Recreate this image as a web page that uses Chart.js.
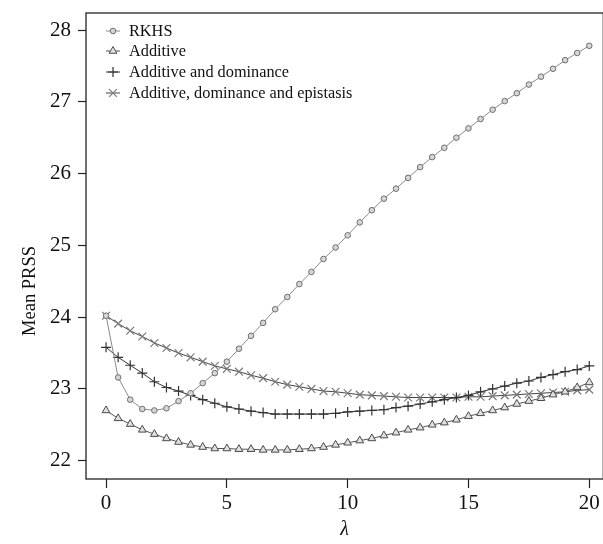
<!DOCTYPE html>
<html>
<head>
<meta charset="utf-8">
<script src="https://cdn.jsdelivr.net/npm/chart.js@4.4.1/dist/chart.umd.min.js"></script>
<style>
  html, body { margin: 0; padding: 0; background: #fff; overflow: hidden; }
  #wrap { width: 603px; height: 544px; overflow: hidden; }
</style>
</head>
<body>
<!-- canvas is a little wider than the page so the open right side of the box runs off the edge -->
<div id="wrap"><canvas id="prssChart" width="610" height="544"></canvas></div>
<script>
// penalty values (lambda)
const lambdas = [0, 0.5, 1, 1.5, 2, 2.5, 3, 3.5, 4, 4.5, 5, 5.5, 6, 6.5, 7, 7.5, 8, 8.5, 9, 9.5,
                 10, 10.5, 11, 11.5, 12, 12.5, 13, 13.5, 14, 14.5, 15, 15.5, 16, 16.5, 17, 17.5,
                 18, 18.5, 19, 19.5, 20];

// mean PRSS for each model
const rkhs = [24.02, 23.16, 22.85, 22.72, 22.70, 22.73, 22.83, 22.94, 23.08, 23.22, 23.38,
              23.56, 23.74, 23.92, 24.11, 24.28, 24.46, 24.63, 24.81, 24.97, 25.14, 25.32,
              25.49, 25.65, 25.79, 25.94, 26.09, 26.23, 26.36, 26.50, 26.63, 26.76, 26.89,
              27.01, 27.12, 27.24, 27.35, 27.46, 27.58, 27.68, 27.78];
const additive = [22.70, 22.59, 22.51, 22.43, 22.37, 22.31, 22.26, 22.22, 22.19, 22.17, 22.17,
                  22.16, 22.16, 22.15, 22.15, 22.15, 22.16, 22.17, 22.19, 22.22, 22.25, 22.28,
                  22.31, 22.35, 22.39, 22.43, 22.46, 22.50, 22.53, 22.57, 22.62, 22.66, 22.70,
                  22.74, 22.79, 22.83, 22.87, 22.92, 22.96, 23.02, 23.09];
const addDom = [23.58, 23.44, 23.33, 23.22, 23.10, 23.02, 22.97, 22.91, 22.85, 22.80, 22.75,
                22.72, 22.69, 22.67, 22.65, 22.65, 22.65, 22.65, 22.65, 22.66, 22.68, 22.69,
                22.70, 22.71, 22.74, 22.76, 22.79, 22.82, 22.85, 22.88, 22.91, 22.96, 23.00,
                23.04, 23.08, 23.11, 23.16, 23.20, 23.24, 23.27, 23.32];
const addDomEpi = [24.02, 23.91, 23.81, 23.73, 23.64, 23.57, 23.50, 23.44, 23.38, 23.32, 23.28,
                   23.24, 23.19, 23.15, 23.10, 23.06, 23.03, 23.00, 22.97, 22.96, 22.94, 22.92,
                   22.91, 22.90, 22.89, 22.88, 22.88, 22.88, 22.88, 22.88, 22.89, 22.89, 22.90,
                   22.91, 22.92, 22.93, 22.94, 22.95, 22.96, 22.98, 22.99];

const xTicks = [0, 5, 10, 15, 20];
const yTicks = [22, 23, 24, 25, 26, 27, 28];
const seriesNames = ['RKHS', 'Additive', 'Additive and dominance', 'Additive, dominance and epistasis'];

const serif = "'Liberation Serif', 'DejaVu Serif', serif";

function pairs(ys) {
    return lambdas.map((x, i) => ({x: x, y: ys[i]}));
}

// R-style box around the plotting region, plus the y axis label
const frame = {
    id: 'frame',
    afterDraw(chart) {
        const {ctx, chartArea: a} = chart;
        ctx.save();
        ctx.strokeStyle = '#222';
        ctx.lineWidth = 1.3;
        ctx.strokeRect(a.left, a.top, a.right - a.left, a.bottom - a.top);

        ctx.translate(30, 291);
        ctx.rotate(-Math.PI / 2);
        ctx.fillStyle = '#111';
        ctx.font = '18.5px ' + serif;
        ctx.textAlign = 'center';
        ctx.textBaseline = 'middle';
        ctx.fillText('Mean PRSS', 0, 0);
        ctx.restore();
    }
};

// legend in the top-left corner: short line + marker, then the name
const boxLegend = {
    id: 'boxLegend',
    afterDraw(chart) {
        const ctx = chart.ctx;
        const x0 = 106, x1 = 120, tx = 129;
        const rows = [31, 51, 72, 93];
        ctx.save();
        chart.data.datasets.forEach((ds, i) => {
            const y = rows[i];
            ctx.strokeStyle = ds.borderColor;
            ctx.lineWidth = 1;
            ctx.beginPath();
            ctx.moveTo(x0, y);
            ctx.lineTo(x1, y);
            ctx.stroke();
            ctx.strokeStyle = ds.pointBorderColor;
            ctx.fillStyle = ds.pointBackgroundColor;
            ctx.lineWidth = ds.pointBorderWidth;
            Chart.helpers.drawPoint(ctx, {
                pointStyle: ds.pointStyle,
                radius: ds.pointRadius,
                borderWidth: ds.pointBorderWidth,
                rotation: 0
            }, (x0 + x1) / 2, y);
            ctx.fillStyle = '#111';
            ctx.font = '16.3px ' + serif;
            ctx.textBaseline = 'middle';
            ctx.fillText(ds.label, tx, y + 1);
        });
        ctx.restore();
    }
};

const ctx = document.getElementById('prssChart').getContext('2d');

new Chart(ctx, {
    type: 'line',
    data: {
        datasets: [{
            label: seriesNames[0],
            data: pairs(rkhs),
            borderColor: '#8a8a8a',
            borderWidth: 1,
            pointStyle: 'circle',
            pointRadius: 2.8,
            pointBorderColor: '#6e6e6e',
            pointBackgroundColor: '#d6d6d6',
            pointBorderWidth: 1
        }, {
            label: seriesNames[1],
            data: pairs(additive),
            borderColor: '#555',
            borderWidth: 1,
            pointStyle: 'triangle',
            pointRadius: 4.5,
            pointBorderColor: '#4a4a4a',
            pointBackgroundColor: '#e0e0e0',
            pointBorderWidth: 1
        }, {
            label: seriesNames[2],
            data: pairs(addDom),
            borderColor: '#333',
            borderWidth: 1,
            pointStyle: 'cross',
            pointRadius: 5,
            pointBorderColor: '#333',
            pointBackgroundColor: '#333',
            pointBorderWidth: 1.2
        }, {
            label: seriesNames[3],
            data: pairs(addDomEpi),
            borderColor: '#444',
            borderWidth: 1,
            pointStyle: 'crossRot',
            pointRadius: 5.5,
            pointBorderColor: '#7a7a7a',
            pointBackgroundColor: '#7a7a7a',
            pointBorderWidth: 1.2
        }]
    },
    options: {
        responsive: false,
        animation: false,
        layout: { padding: { top: 13, right: 0, left: 0, bottom: 0 } },
        plugins: {
            legend: { display: false },
            tooltip: { enabled: false }
        },
        scales: {
            x: {
                type: 'linear',
                min: -0.83,
                max: 20.58,
                afterBuildTicks: scale => { scale.ticks = xTicks.map(v => ({value: v})); },
                afterFit: scale => {
                    scale.height = 65;
                    scale.paddingLeft = 0;
                    scale.paddingRight = 0;
                },
                border: { display: false },
                grid: { drawOnChartArea: false, tickLength: 9, color: '#222', tickWidth: 1.2 },
                ticks: { color: '#111', padding: 3, font: { family: serif, size: 21 } },
                title: {
                    display: true,
                    text: 'λ',
                    color: '#111',
                    padding: 2,
                    font: { family: serif, size: 20, style: 'italic' }
                }
            },
            y: {
                min: 21.745,
                max: 28.237,
                afterBuildTicks: scale => { scale.ticks = yTicks.map(v => ({value: v})); },
                afterFit: scale => {
                    scale.width = 86;
                    scale.paddingTop = 0;
                    scale.paddingBottom = 0;
                },
                border: { display: false },
                grid: { drawOnChartArea: false, tickLength: 8, color: '#222', tickWidth: 1.2 },
                ticks: { color: '#111', padding: 7, font: { family: serif, size: 21 } }
            }
        }
    },
    plugins: [frame, boxLegend]
});
</script>
</body>
</html>
